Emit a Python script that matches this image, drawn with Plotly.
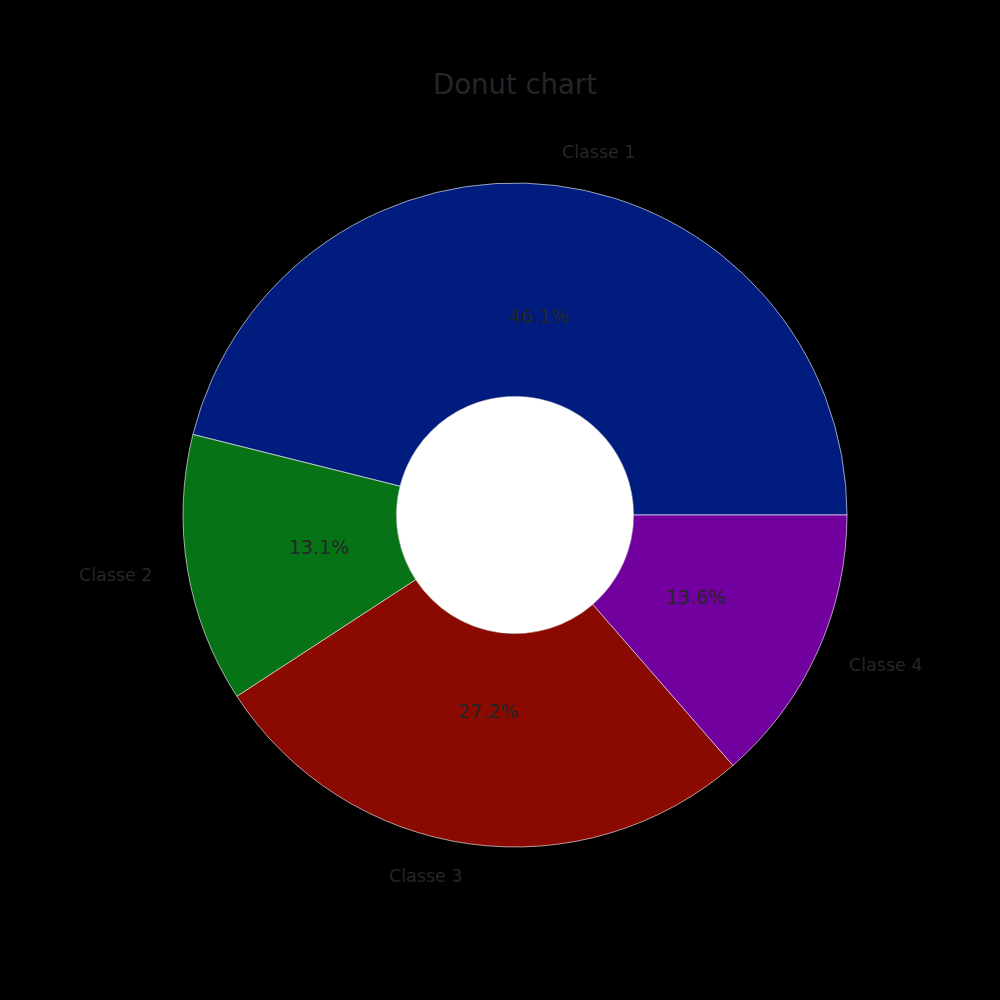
import math
import plotly.graph_objects as go

labels = ["Classe 1", "Classe 2", "Classe 3", "Classe 4"]
values = [46.1, 13.1, 27.2, 13.6]
colors = ["#001c7f", "#067317", "#8a0900", "#72009e"]
title_text = "Donut chart"

W = H = 1000
cx, cy, r = 515, 515, 332  # pie centre / radius in pixels
hole = 0.357
text_color = "#262626"
font_family = "DejaVu Sans"

dom_x = [(cx - r) / W, (cx + r) / W]
dom_y = [1 - (cy + r) / H, 1 - (cy - r) / H]

total = sum(values)
# plotly (counterclockwise) ends the first slice at `rotation` (clockwise from 12 o'clock);
# we want the first slice to start at 3 o'clock, so it ends at 90deg - its span.
first_span = values[0] / total * 360
rotation = 90 - first_span

fig = go.Figure(
    go.Pie(
        labels=labels,
        values=values,
        sort=False,
        direction="counterclockwise",
        rotation=rotation,
        hole=hole,
        textinfo="none",
        hoverinfo="label+percent",
        marker=dict(colors=colors, line=dict(color="white", width=0.6)),
        domain=dict(x=dom_x, y=dom_y),
        showlegend=False,
    )
)

annotations = []
cum = 0.0
for lab, v in zip(labels, values):
    mid = (cum + v / 2) / total * 2 * math.pi
    cum += v
    cx_p = cx / W
    cy_p = 1 - cy / H
    lx = cx_p + 1.1 * r * math.cos(mid) / W
    ly = cy_p + 1.1 * r * math.sin(mid) / H
    annotations.append(dict(
        x=lx, y=ly + 1 / H, xref="paper", yref="paper", text=lab, showarrow=False,
        xanchor="left" if math.cos(mid) > 0 else "right", yanchor="middle",
        font=dict(size=17.5, color=text_color, family=font_family),
    ))
    px = cx_p + 0.6 * r * math.cos(mid) / W
    py = cy_p + 0.6 * r * math.sin(mid) / H
    annotations.append(dict(
        x=px, y=py + 1 / H, xref="paper", yref="paper", text=f"{v / total * 100:.1f}%",
        showarrow=False, xanchor="center", yanchor="middle",
        font=dict(size=19, color=text_color, family=font_family),
    ))

fig.update_layout(
    width=W, height=H,
    margin=dict(l=0, r=0, t=0, b=0),
    paper_bgcolor="black",
    plot_bgcolor="black",
    title=dict(text=title_text, x=cx / W, xanchor="center", y=1 - 84 / H, yanchor="middle",
               font=dict(size=27.5, color=text_color, family=font_family)),
    annotations=annotations,
    shapes=[dict(
        type="circle", xref="paper", yref="paper", layer="below",
        x0=(cx - hole * r) / W, x1=(cx + hole * r) / W,
        y0=1 - (cy + hole * r) / H, y1=1 - (cy - hole * r) / H,
        fillcolor="white", line=dict(width=0),
    )],
)

fig.write_html("out.html", config={"displayModeBar": False},
               post_script="document.body.style.margin='0';")
